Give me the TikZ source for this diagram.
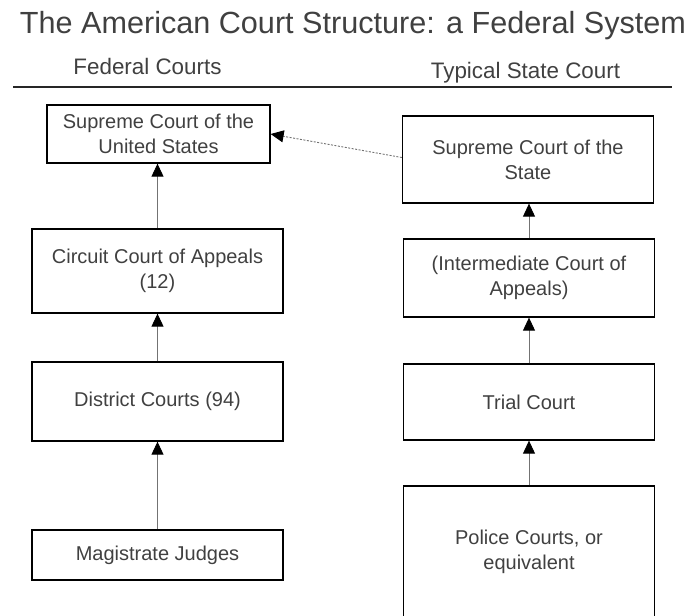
\documentclass[tikz,border=0pt]{standalone}
\usepackage{fontspec}
\setmainfont{Liberation Sans}
\usepackage{tikz}
\usetikzlibrary{arrows.meta, positioning}
\usepackage{xcolor}
\definecolor{ink}{HTML}{404040}

\begin{document}
\begin{tikzpicture}
  [x=1pt, y=-1pt,
  court/.style={rectangle,draw=black,line width=1.3pt,text=ink,align=center,inner sep=0pt,
    minimum width=251pt,font=\fontsize{20}{25}\selectfont},
  heading/.style={anchor=base,text=ink,inner sep=0pt},
  up/.style={draw=black!55,line width=0.9pt,-{Triangle[length=13pt,width=12pt,color=black]}},
  refer/.style={up,dash pattern=on 2pt off 1.5pt}]

\useasboundingbox (0,0) rectangle (694,616);

% Title and column headings
\node[heading, font=\fontsize{30.6}{36}\selectfont] (title) at (353,33) {The American Court Structure: a Federal System};
\node[heading, font=\fontsize{22.4}{27}\selectfont] (fed) at (147.5,74) {Federal Courts};
\node[heading, font=\fontsize{22.4}{27}\selectfont] (st) at (525.5,78) {Typical State Court};
\draw[line width=1.5pt, black!85] (13,87) -- (672,87);

% Federal courts
\node[court, minimum width=223pt, minimum height=58pt] (sus) at (158.5,134) {Supreme Court of the\\United States};
\node[court, minimum height=84pt] (cca) at (157.5,271) {Circuit Court of Appeals\\(12)};
\node[court, minimum height=79pt] (dc) at (157.5,401.5) {District Courts (94)};
\node[court, minimum height=50pt] (mj) at (157.5,555) {Magistrate Judges};

% State courts
\node[court, minimum height=87pt] (ssc) at (528,159.5) {Supreme Court of the\\State};
\node[court, minimum height=78pt] (ica) at (529,278) {(Intermediate Court of\\Appeals)};
\node[court, minimum height=76pt] (tc) at (529,402) {Trial Court};
\node[court, minimum height=132pt] (pc) at (529,552) {Police Courts, or\\equivalent};

% Appeals upward
\draw[up] (cca.north) -- (cca.north |- sus.south);
\draw[up] (dc) -- (cca);
\draw[up] (mj) -- (dc);
\draw[up] (ica.north) -- (ica.north |- ssc.south);
\draw[up] (tc) -- (ica);
\draw[up] (pc) -- (tc);
\draw[refer] (ssc.west) ++(0,-2) -- (sus.east);

\end{tikzpicture}
\end{document}
